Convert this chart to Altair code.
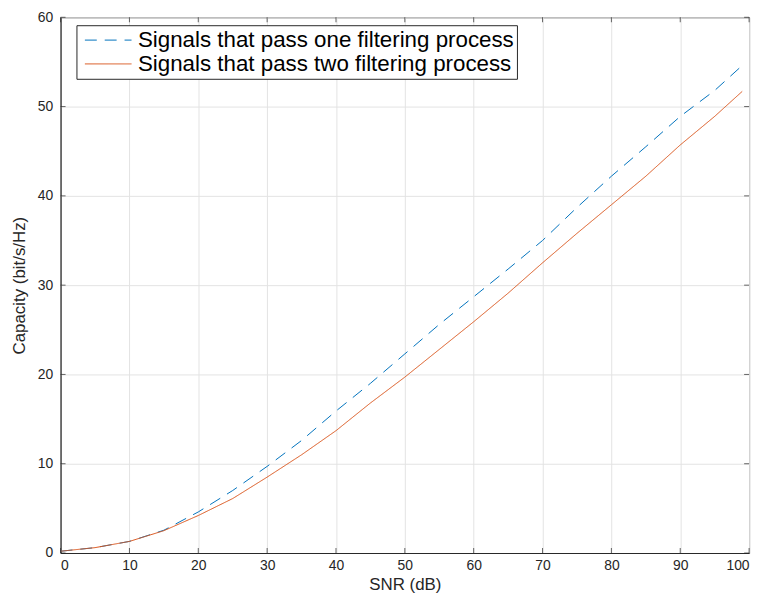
import altair as alt
import pandas as pd

snr = [0, 5, 10, 15, 20, 25, 30, 35, 40, 45, 50, 55, 60, 65, 70, 75, 80, 85, 90, 95, 99]
cap_one = [0.2, 0.6, 1.3, 2.55, 4.6, 7.0, 9.7, 12.6, 15.9, 19.0, 22.3, 25.6, 28.7, 31.8, 35.0, 38.7, 42.2, 45.5, 48.9, 51.8, 54.6]
cap_two = [0.2, 0.6, 1.3, 2.5, 4.2, 6.1, 8.5, 11.0, 13.7, 16.8, 19.7, 22.8, 25.9, 29.1, 32.5, 35.8, 39.0, 42.2, 45.7, 48.9, 51.7]
series = ["Signals that pass one filtering process", "Signals that pass two filtering process"]
x_ticks = [0, 10, 20, 30, 40, 50, 60, 70, 80, 90, 100]
y_ticks = [0, 10, 20, 30, 40, 50, 60]

df = pd.DataFrame({
    "snr": snr + snr,
    "cap": cap_one + cap_two,
    "series": [series[0]] * len(snr) + [series[1]] * len(snr),
})

FONT = "Liberation Sans"
AX = "#262626"

x_scale = alt.Scale(domain=[0, 100], nice=False, zero=False)
y_scale = alt.Scale(domain=[0, 60], nice=False)

lines = alt.Chart(df).mark_line(strokeWidth=1, clip=True).encode(
    x=alt.X("snr:Q", scale=x_scale, title="SNR (dB)",
            axis=alt.Axis(values=x_ticks, format="d", grid=True, ticks=False,
                          labelPadding=6, titlePadding=4)),
    y=alt.Y("cap:Q", scale=y_scale, title="Capacity (bit/s/Hz)",
            axis=alt.Axis(values=y_ticks, format="d", grid=True, ticks=False,
                          labelPadding=8, titlePadding=9)),
    color=alt.Color("series:N", scale=alt.Scale(domain=series, range=["#0072BD", "#D95319"]),
                    title=None),
    strokeDash=alt.StrokeDash("series:N", scale=alt.Scale(domain=series, range=[[12, 8], [1, 0]]),
                              title=None),
)

xt = pd.DataFrame({"v": x_ticks})
yt = pd.DataFrame({"v": y_ticks})

xb = alt.Chart(xt).mark_tick(orient="vertical", size=5, thickness=1, color=AX, yOffset=-2.5).encode(
    x=alt.X("v:Q", scale=x_scale), y=alt.datum(0))
xtp = alt.Chart(xt).mark_tick(orient="vertical", size=5, thickness=1, color=AX, yOffset=2.5).encode(
    x=alt.X("v:Q", scale=x_scale), y=alt.datum(60))
yl = alt.Chart(yt).mark_tick(orient="horizontal", size=5, thickness=1, color=AX, xOffset=2.5).encode(
    y=alt.Y("v:Q", scale=y_scale), x=alt.datum(0))
yr = alt.Chart(yt).mark_tick(orient="horizontal", size=5, thickness=1, color=AX, xOffset=-2.5).encode(
    y=alt.Y("v:Q", scale=y_scale), x=alt.datum(100))

chart = alt.layer(lines, xb, xtp, yl, yr).properties(
    width=694, height=540,
    background="#ffffff",
    autosize=alt.AutoSizeParams(type="none"),
    padding={"left": 53, "top": 7, "right": 12, "bottom": 44},
).configure_view(
    stroke=AX, strokeWidth=1
).configure_axis(
    labelFont=FONT, titleFont=FONT, labelFontSize=14, titleFontSize=17,
    titleFontWeight="normal", labelColor=AX, titleColor=AX,
    domainColor=AX, gridColor="#e3e3e3", gridWidth=1,
).configure_legend(
    orient="none", legendX=16, legendY=8,
    labelFont=FONT, labelFontSize=22.5, labelColor="#000000", labelLimit=600,
    symbolType="stroke", symbolSize=2209, symbolStrokeWidth=1,
    clipHeight=24, rowPadding=0, padding=3, symbolOffset=5, labelOffset=6,
    strokeColor=AX, fillColor="#ffffff",
)

chart.save("out.html", embed_options={"renderer": "svg", "actions": False})
